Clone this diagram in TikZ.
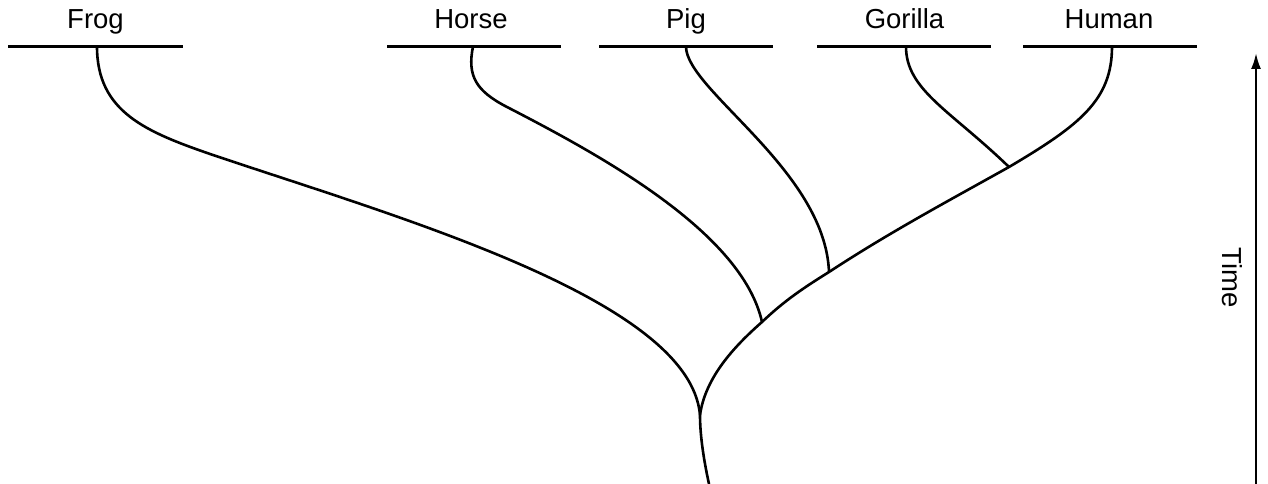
\documentclass[tikz,border=0pt]{standalone}
\usepackage{fontspec}
\setmainfont{Liberation Sans}
\usetikzlibrary{arrows.meta}
\begin{document}
\begin{tikzpicture}[x=1pt,y=-1pt,
  branch/.style={line width=2.6pt,line cap=butt},
  bar/.style={line width=2.6pt},
  taxon/.style={anchor=base,inner sep=0pt,font=\fontsize{27.5}{30}\selectfont},
  timearrow/.style={line width=2.2pt,-{Latex[length=16pt,width=10pt]}}]
\useasboundingbox (0,0) rectangle (1268,484);
% labels
\node[taxon] (frogL) at (95.5,29) {Frog};
\node[taxon] (horseL) at (471,29) {Horse};
\node[taxon] (pigL) at (686,29) {Pig};
\node[taxon] (gorL) at (904.5,29) {Gorilla};
\node[taxon] (humL) at (1109,29) {Human};
% bars
\coordinate (f1) at (8,46.5); \coordinate (f2) at (183,46.5);
\coordinate (h1) at (387,46.5); \coordinate (h2) at (561,46.5);
\coordinate (p1) at (599,46.5); \coordinate (p2) at (773,46.5);
\coordinate (g1) at (817,46.5); \coordinate (g2) at (991,46.5);
\coordinate (u1) at (1023,46.5); \coordinate (u2) at (1197,46.5);
\draw[bar] (f1) -- (f2);
\draw[bar] (h1) -- (h2);
\draw[bar] (p1) -- (p2);
\draw[bar] (g1) -- (g2);
\draw[bar] (u1) -- (u2);
% tips of branches
\coordinate (frog) at (97,46.5);
\coordinate (horse) at (473,46.5);
\coordinate (pig) at (686,46.5);
\coordinate (gor) at (906,46.5);
\coordinate (hum) at (1112,46.5);
% junctions
\coordinate (root) at (709,484);
\coordinate (j1) at (700,415);
\coordinate (j2) at (762,322);
\coordinate (j3) at (829,272);
\coordinate (j4) at (1009,167);
\coordinate (fm) at (213,155);
\coordinate (hm) at (507,107);
% tree
\draw[branch] (root) .. controls (702,452) and (700,430) .. (j1);
\draw[branch] (frog) .. controls (97,112) and (146,132) .. (fm)
   .. controls (400,218) and (690,300) .. (j1);
\draw[branch] (j1) .. controls (705,380) and (730,350) .. (j2)
   .. controls (785,300) and (805,287) .. (j3)
   .. controls (890,232) and (950,200) .. (j4)
   .. controls (1080,125) and (1112,100) .. (hum);
\draw[branch] (horse) .. controls (467,76) and (476,91) .. (hm)
   .. controls (600,155) and (742,232) .. (j2);
\draw[branch] (pig) .. controls (686,90) and (825,170) .. (j3);
\draw[branch] (gor) .. controls (906,90) and (950,110) .. (j4);
% time axis
\coordinate (t0) at (1256,484);
\coordinate (t1) at (1256,53);
\draw[timearrow] (t0) -- (t1);
\node[rotate=-90,inner sep=0pt,font=\fontsize{27.5}{30}\selectfont] (time) at (1232,278) {Time};
\end{tikzpicture}
\end{document}
